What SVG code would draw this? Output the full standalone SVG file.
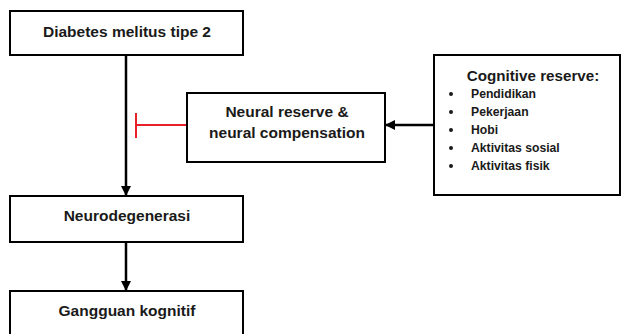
<svg xmlns="http://www.w3.org/2000/svg" width="622" height="334" viewBox="0 0 622 334">
<style>
.box{fill:#fff;stroke:#000;stroke-width:2}
.t{font-family:"Liberation Sans",Arial,sans-serif;font-weight:bold;fill:#1a1a1a;font-size:15.5px}
.c{text-anchor:middle}
.ln{stroke:#000;stroke-width:2.5;fill:none}
.it{font-family:"Liberation Sans",Arial,sans-serif;font-weight:bold;fill:#1a1a1a;font-size:12.2px}
</style>
<defs>
<marker id="ah" markerWidth="10" markerHeight="10" refX="9" refY="5" orient="auto" markerUnits="userSpaceOnUse">
<path d="M0,0 L10,5 L0,10 z" fill="#000"/>
</marker>
</defs>
<rect width="622" height="334" fill="#fff"/>
<g id="connectors">
<line class="ln" x1="126" y1="55" x2="126" y2="195" marker-end="url(#ah)"/>
<line class="ln" x1="126" y1="242" x2="126" y2="290" marker-end="url(#ah)"/>
<line class="ln" x1="434" y1="125" x2="386" y2="125" marker-end="url(#ah)"/>
<line x1="187" y1="125" x2="136" y2="125" stroke="#e8202a" stroke-width="2"/>
<line x1="136" y1="113" x2="136" y2="138" stroke="#e8202a" stroke-width="2"/>
</g>
<g id="dm2">
<rect class="box" x="10" y="11" width="233" height="44"/>
<text class="t c" x="127" y="37">Diabetes melitus tipe 2</text>
</g>
<g id="neural">
<rect class="box" x="187" y="93" width="198" height="69"/>
<text class="t c" x="287" y="117">Neural reserve &amp;</text>
<text class="t c" x="287" y="138">neural compensation</text>
</g>
<g id="cognitive">
<rect class="box" x="434" y="55" width="186" height="140"/>
<text class="t c" x="533" y="81" style="font-size:15.2px">Cognitive reserve:</text>
<circle cx="451" cy="94" r="2" fill="#1a1a1a"/>
<circle cx="451" cy="112" r="2" fill="#1a1a1a"/>
<circle cx="451" cy="130" r="2" fill="#1a1a1a"/>
<circle cx="451" cy="148" r="2" fill="#1a1a1a"/>
<circle cx="451" cy="166" r="2" fill="#1a1a1a"/>
<text class="it" x="471" y="98">Pendidikan</text>
<text class="it" x="471" y="116">Pekerjaan</text>
<text class="it" x="471" y="134">Hobi</text>
<text class="it" x="471" y="152">Aktivitas sosial</text>
<text class="it" x="471" y="170">Aktivitas fisik</text>
</g>
<g id="neurodegenerasi">
<rect class="box" x="10" y="196" width="233" height="46"/>
<text class="t c" x="127" y="221">Neurodegenerasi</text>
</g>
<g id="gangguan">
<rect class="box" x="10" y="291" width="233" height="48"/>
<text class="t c" x="127" y="316">Gangguan kognitif</text>
</g>
</svg>
